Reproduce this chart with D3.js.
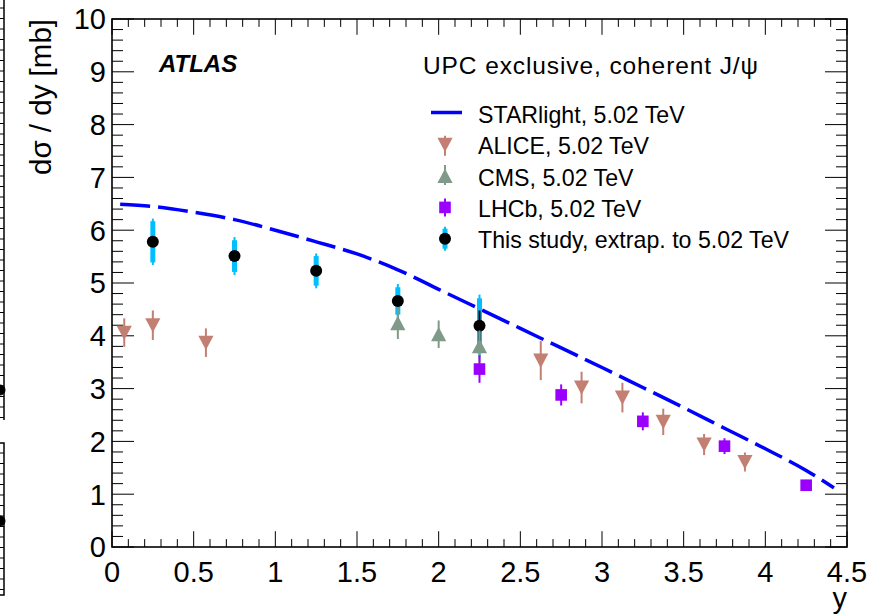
<!DOCTYPE html>
<html>
<head>
<meta charset="utf-8">
<script src="https://cdn.jsdelivr.net/npm/d3@7"></script>
<style>
  html, body { margin: 0; padding: 0; background: #fff; }
  svg { display: block; font-family: "Liberation Sans", Arial, Helvetica, sans-serif; }
</style>
</head>
<body>
<svg id="chart" width="869" height="615"></svg>
<script>
// Coherent J/psi photoproduction cross-section vs rapidity
const xTickLabels = ["0", "0.5", "1", "1.5", "2", "2.5", "3", "3.5", "4", "4.5"];
const yTickLabels = ["0", "1", "2", "3", "4", "5", "6", "7", "8", "9", "10"];

// STARlight prediction
const starlightY = [0.05, 0.25, 0.5, 0.75, 1.0, 1.25, 1.5, 1.75, 2.0, 2.25, 2.5, 2.75, 3.0, 3.25, 3.5, 3.75, 4.0, 4.25, 4.42];
const starlightXsec = [6.49, 6.45, 6.34, 6.2, 6.0, 5.78, 5.55, 5.25, 4.88, 4.51, 4.14, 3.77, 3.40, 3.02, 2.64, 2.25, 1.86, 1.45, 1.12];

// ALICE
const aliceY = [0.075, 0.25, 0.575, 2.625, 2.875, 3.125, 3.375, 3.625, 3.875];
const aliceXsec = [4.06, 4.20, 3.87, 3.53, 3.02, 2.83, 2.37, 1.94, 1.61];
const aliceErr = [0.27, 0.28, 0.27, 0.37, 0.30, 0.28, 0.25, 0.20, 0.18];

// CMS
const cmsY = [1.75, 2.0, 2.25];
const cmsXsec = [4.24, 4.03, 3.80];
const cmsErr = [0.30, 0.26, 0.30];

// LHCb
const lhcbY = [2.25, 2.75, 3.25, 3.75, 4.25];
const lhcbXsec = [3.37, 2.88, 2.38, 1.91, 1.17];
const lhcbErr = [0.26, 0.20, 0.17, 0.15, 0.10];

// This study (extrapolated to 5.02 TeV)
const studyY = [0.25, 0.75, 1.25, 1.75, 2.25];
const studyXsec = [5.78, 5.51, 5.23, 4.66, 4.19];
const studyStat = [0.08, 0.08, 0.10, 0.10, 0.29];
const studySyst = [0.39, 0.30, 0.28, 0.26, 0.52];
const studyTotal = [0.44, 0.36, 0.33, 0.32, 0.59];

const legendLabels = ["STARlight, 5.02 TeV", "ALICE, 5.02 TeV", "CMS, 5.02 TeV", "LHCb, 5.02 TeV", "This study, extrap. to 5.02 TeV"];

const colors = {
  starlight: "#0000ff",
  alice: "#c27f72",
  cms: "#7f9a88",
  lhcb: "#9b00ff",
  syst: "#00bfff",
  study: "#000000"
};

(function draw() {
  const svg = d3.select("#chart");
  svg.append("rect").attr("width", 869).attr("height", 615).attr("fill", "#fff");

  const pl = 112, pr = 847, pt = 19, pb = 547;
  const x = d3.scaleLinear().domain([0, 4.5]).range([pl, pr]);
  const y = d3.scaleLinear().domain([0, 10]).range([pb, pt]);

  // neighbouring panel edge on the left
  const edge = svg.append("g").attr("stroke", "#000").attr("fill", "none");
  edge.append("line").attr("x1", 4).attr("x2", 4).attr("y1", 0).attr("y2", 420).attr("stroke-width", 1.5);
  for (let yy = 8; yy < 420; yy += 10.5) edge.append("line").attr("x1", 0).attr("x2", 4).attr("y1", yy).attr("y2", yy).attr("stroke-width", 1);
  edge.append("circle").attr("cx", 0).attr("cy", 390).attr("r", 5).attr("fill", "#000");
  edge.append("path").attr("d", "M0,443 H4 V595 H0").attr("stroke-width", 1.5);
  for (let yy = 453; yy < 595; yy += 10.5) edge.append("line").attr("x1", 0).attr("x2", 4).attr("y1", yy).attr("y2", yy).attr("stroke-width", 1);
  edge.append("circle").attr("cx", 0).attr("cy", 521).attr("r", 5).attr("fill", "#000");

  // ticks on all four sides, pointing inward
  const ticks = svg.append("g").attr("stroke", "#000").attr("stroke-width", 1);
  d3.range(0, 46).forEach(i => {
    const v = i / 10, len = (i % 5 === 0) ? 15.8 : 7.9;
    ticks.append("line").attr("x1", x(v)).attr("x2", x(v)).attr("y1", pb).attr("y2", pb - len);
    ticks.append("line").attr("x1", x(v)).attr("x2", x(v)).attr("y1", pt).attr("y2", pt + len);
  });
  d3.range(0, 51).forEach(i => {
    const v = i / 5, len = (i % 5 === 0) ? 22 : 11;
    ticks.append("line").attr("y1", y(v)).attr("y2", y(v)).attr("x1", pl).attr("x2", pl + len);
    ticks.append("line").attr("y1", y(v)).attr("y2", y(v)).attr("x1", pr).attr("x2", pr - len);
  });

  svg.append("rect").attr("x", pl).attr("y", pt).attr("width", pr - pl).attr("height", pb - pt)
    .attr("fill", "none").attr("stroke", "#000").attr("stroke-width", 1.6);

  // tick labels
  svg.append("g").selectAll("text").data(xTickLabels).join("text")
    .attr("x", d => x(+d)).attr("y", 582)
    .attr("text-anchor", "middle").attr("font-size", 29).text(d => d);
  svg.append("g").selectAll("text").data(yTickLabels).join("text")
    .attr("x", 106).attr("y", d => y(+d) + 10.4)
    .attr("text-anchor", "end").attr("font-size", 29).text(d => d);

  // axis titles
  svg.append("text").attr("x", pr).attr("y", 608).attr("text-anchor", "end").attr("font-size", 29).text("y");
  svg.append("text").attr("transform", `translate(51,${pt}) rotate(-90)`).attr("text-anchor", "end")
    .attr("font-size", 29.5).text("dσ / dy [mb]");

  // STARlight curve
  const line = d3.line().x(d => x(d[0])).y(d => y(d[1])).curve(d3.curveMonotoneX);
  svg.append("path").datum(starlightY.map((v, i) => [v, starlightXsec[i]]))
    .attr("d", line).attr("fill", "none").attr("stroke", colors.starlight)
    .attr("stroke-width", 3.5).attr("stroke-dasharray", "30,8");

  // marker shapes
  const triDown = "M-7.6,-7 L7.6,-7 L0,7.3 Z";
  const triUp = "M-7.6,7 L7.6,7 L0,-7.3 Z";

  function errBars(g, xs, vs, es, color, w) {
    g.selectAll("line.err").data(xs).join("line").attr("class", "err")
      .attr("x1", d => x(d)).attr("x2", d => x(d))
      .attr("y1", (d, i) => y(vs[i] + es[i])).attr("y2", (d, i) => y(vs[i] - es[i]))
      .attr("stroke", color).attr("stroke-width", w);
  }

  // This study
  const gs = svg.append("g");
  gs.selectAll("line.tot").data(studyY).join("line").attr("class", "tot")
    .attr("x1", d => x(d)).attr("x2", d => x(d))
    .attr("y1", (d, i) => y(studyXsec[i] + studyTotal[i])).attr("y2", (d, i) => y(studyXsec[i] - studyTotal[i]))
    .attr("stroke", colors.syst).attr("stroke-width", 2);
  gs.selectAll("rect.syst").data(studyY).join("rect").attr("class", "syst")
    .attr("x", d => x(d) - 2.5).attr("width", 5)
    .attr("y", (d, i) => y(studyXsec[i] + studySyst[i]))
    .attr("height", (d, i) => y(studyXsec[i] - studySyst[i]) - y(studyXsec[i] + studySyst[i]))
    .attr("fill", colors.syst);
  gs.selectAll("line.stat").data(studyY).join("line").attr("class", "stat")
    .attr("x1", d => x(d)).attr("x2", d => x(d))
    .attr("y1", (d, i) => y(studyXsec[i] + studyStat[i])).attr("y2", (d, i) => y(studyXsec[i] - studyStat[i]))
    .attr("stroke", colors.study).attr("stroke-width", 2);
  gs.selectAll("circle").data(studyY).join("circle")
    .attr("cx", d => x(d)).attr("cy", (d, i) => y(studyXsec[i])).attr("r", 6).attr("fill", colors.study);

  // ALICE
  const ga = svg.append("g");
  errBars(ga, aliceY, aliceXsec, aliceErr, colors.alice, 2);
  ga.selectAll("path").data(aliceY).join("path")
    .attr("transform", (d, i) => `translate(${x(d)},${y(aliceXsec[i])})`)
    .attr("d", triDown).attr("fill", colors.alice);

  // CMS
  const gc = svg.append("g");
  errBars(gc, cmsY, cmsXsec, cmsErr, colors.cms, 2);
  gc.selectAll("path").data(cmsY).join("path")
    .attr("transform", (d, i) => `translate(${x(d)},${y(cmsXsec[i])})`)
    .attr("d", triUp).attr("fill", colors.cms);

  // LHCb
  const gl = svg.append("g");
  errBars(gl, lhcbY, lhcbXsec, lhcbErr, colors.lhcb, 2);
  gl.selectAll("rect").data(lhcbY).join("rect")
    .attr("x", d => x(d) - 5.8).attr("y", (d, i) => y(lhcbXsec[i]) - 5.8)
    .attr("width", 11.6).attr("height", 11.6).attr("fill", colors.lhcb);

  // labels
  svg.append("text").attr("x", 159).attr("y", 72).attr("font-size", 24)
    .attr("font-weight", "bold").attr("font-style", "italic").text("ATLAS");
  svg.append("text").attr("x", 423).attr("y", 73.5).attr("font-size", 24.5)
    .attr("textLength", 335).attr("lengthAdjust", "spacing")
    .text("UPC exclusive, coherent J/ψ");

  // legend
  const lg = svg.append("g");
  const lx = 445, base0 = 123, step = 31.3;
  legendLabels.forEach((t, i) => {
    lg.append("text").attr("x", 478).attr("y", base0 + i * step).attr("font-size", 23.2).text(t);
  });
  const sy = i => base0 + i * step - 9.5;
  lg.append("line").attr("x1", 431).attr("x2", 462).attr("y1", sy(0) - 1).attr("y2", sy(0) - 1)
    .attr("stroke", colors.starlight).attr("stroke-width", 3.5);
  lg.append("line").attr("x1", lx).attr("x2", lx).attr("y1", sy(1) - 9).attr("y2", sy(1) + 11)
    .attr("stroke", colors.alice).attr("stroke-width", 2);
  lg.append("path").attr("transform", `translate(${lx},${sy(1)})`).attr("d", triDown).attr("fill", colors.alice);
  lg.append("line").attr("x1", lx).attr("x2", lx).attr("y1", sy(2) - 11).attr("y2", sy(2) + 9)
    .attr("stroke", colors.cms).attr("stroke-width", 2);
  lg.append("path").attr("transform", `translate(${lx},${sy(2)})`).attr("d", triUp).attr("fill", colors.cms);
  lg.append("line").attr("x1", lx).attr("x2", lx).attr("y1", sy(3) - 9).attr("y2", sy(3) + 9)
    .attr("stroke", colors.lhcb).attr("stroke-width", 2);
  lg.append("rect").attr("x", lx - 5.8).attr("y", sy(3) - 5.8).attr("width", 11.6).attr("height", 11.6).attr("fill", colors.lhcb);
  lg.append("line").attr("x1", lx).attr("x2", lx).attr("y1", sy(4) - 12).attr("y2", sy(4) + 12)
    .attr("stroke", colors.syst).attr("stroke-width", 2);
  lg.append("rect").attr("x", lx - 2.5).attr("y", sy(4) - 10).attr("width", 5).attr("height", 20).attr("fill", colors.syst);
  lg.append("circle").attr("cx", lx).attr("cy", sy(4)).attr("r", 6).attr("fill", colors.study);
})();
</script>
</body>
</html>
